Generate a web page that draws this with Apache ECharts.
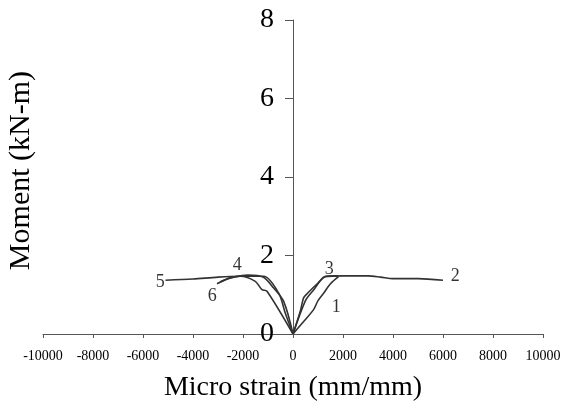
<!DOCTYPE html>
<html>
<head>
<meta charset="utf-8">
<script src="https://cdn.jsdelivr.net/npm/echarts@6/dist/echarts.min.js"></script>
<style>
  html, body { margin: 0; padding: 0; background: #fff; }
  #chart { width: 564px; height: 409px; }
</style>
</head>
<body>
<div id="chart"></div>
<script>
// strain (micro) vs moment (kN-m)
const curve1 = [[0, 0], [400, 0.3], [824, 0.62], [1000, 0.85], [1224, 1.04], [1500, 1.28], [1820, 1.46]];
const curve2 = [[0, 0], [500, 0.85], [800, 1.1], [1300, 1.46], [2000, 1.48], [3000, 1.48], [3500, 1.45], [4000, 1.41], [5000, 1.41], [6000, 1.37]];
const curve3 = [[0, 0], [300, 0.6], [424, 0.92], [600, 1.05], [1000, 1.3], [1300, 1.47], [1800, 1.48]];
const curve4 = [[-2900, 1.33], [-2500, 1.43], [-1800, 1.5], [-1200, 1.45], [-773, 1.17], [-373, 0.83], [0, 0]];
const curve5 = [[-5100, 1.37], [-4000, 1.4], [-3000, 1.45], [-2100, 1.47], [-1175, 1.47], [-573, 1.04], [-307, 0.53], [0, 0]];
const curve6 = [[-3040, 1.28], [-2508, 1.43], [-2108, 1.47], [-1508, 1.34], [-1240, 1.13], [-1040, 1.09], [0, 0]];
const curveLabels = [['1', 1732, 0.67], ['2', 6492, 1.46], ['3', 1452, 1.64], ['4', -2228, 1.76], ['5', -5308, 1.33], ['6', -3228, 0.95]];
const xTicks = [-10000, 10000, 2000];
const yTicks = [0, 8, 2];

const chart = echarts.init(document.getElementById('chart'));
const serif = '"Liberation Serif", "DejaVu Serif", serif';
const lineStyle = { color: '#333', width: 1.6 };
const grid = { left: 43, right: 21, top: 20, bottom: 75 };
// y axis sits on x = 0, the middle of the grid
const yShift = (564 - grid.left - grid.right) / 2;

const curves = [curve1, curve2, curve3, curve4, curve5, curve6].map(d => ({
  type: 'line',
  data: d,
  showSymbol: false,
  smooth: 0.3,
  lineStyle: lineStyle,
  silent: true
}));

chart.setOption({
  animation: false,
  grid: grid,
  xAxis: {
    type: 'value',
    min: xTicks[0], max: xTicks[1], interval: xTicks[2],
    splitLine: { show: false },
    axisLine: { onZero: true, lineStyle: { color: '#555' } },
    axisTick: { length: 4, lineStyle: { color: '#555' } },
    axisLabel: { fontFamily: serif, fontSize: 14, color: '#000', margin: 15, formatter: v => String(v) },
    name: 'Micro strain (mm/mm)',
    nameLocation: 'middle',
    nameGap: 40,
    nameTextStyle: { fontFamily: serif, fontSize: 28, color: '#000' }
  },
  yAxis: {
    type: 'value',
    min: yTicks[0], max: yTicks[1], interval: yTicks[2],
    offset: -yShift,
    splitLine: { show: false },
    axisLine: { onZero: false, lineStyle: { color: '#555' } },
    axisTick: { length: 8, lineStyle: { color: '#555' } },
    axisLabel: { fontFamily: serif, fontSize: 28, color: '#000', margin: 19 }
  },
  graphic: [{
    type: 'text',
    left: 6,
    top: 71,
    rotation: Math.PI / 2,
    style: { text: 'Moment (kN-m)', font: '30px ' + serif, fill: '#000' }
  }],
  series: curves.concat([{
    type: 'scatter',
    symbolSize: 0,
    silent: true,
    data: curveLabels.map(l => ({ value: [l[1], l[2]], name: l[0] })),
    label: {
      show: true,
      position: 'inside',
      formatter: '{b}',
      fontFamily: serif,
      fontSize: 18,
      color: '#000'
    }
  }])
});
</script>
</body>
</html>
